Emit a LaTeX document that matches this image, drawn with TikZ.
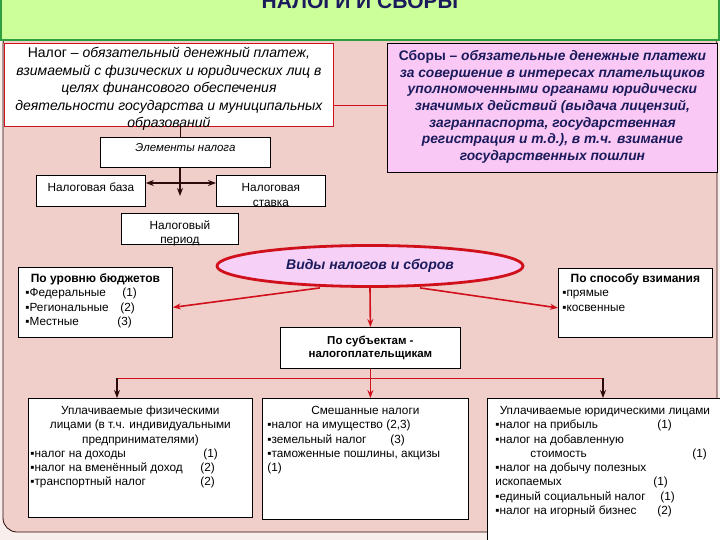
\documentclass[tikz,border=0pt]{standalone}
\usepackage{fontspec}
\setmainfont{Liberation Sans}
\usetikzlibrary{shapes.geometric,arrows.meta}

\definecolor{pageback}{HTML}{F8EEEC}
\definecolor{pinkbg}{HTML}{F0CEC9}
\definecolor{banner}{HTML}{CCFF99}
\definecolor{bannerline}{HTML}{2E9E3E}
\definecolor{sborfill}{HTML}{F9C8F4}
\definecolor{ellfill}{HTML}{F6D0F7}
\definecolor{myred}{HTML}{D0111B}
\definecolor{navy}{HTML}{1A1A5C}
\definecolor{darkline}{HTML}{2B0A0A}

\begin{document}
\begin{tikzpicture}[x=1pt, y=-1pt, >={Stealth[length=8pt,width=6pt]},
    box/.style={draw, fill=white, anchor=north west, inner sep=0pt, line width=0.8pt},
    redarrow/.style={->, draw=myred, line width=1.6pt},
    blackarrow/.style={->, draw=darkline, line width=2pt},
    smallfont/.style={font=\fontsize{11.8}{14.3}\selectfont}]
    \useasboundingbox (0,0) rectangle (720,540);
    % background and frame
    \fill[pageback] (0,0) rectangle (720,540);
    \filldraw[fill=pinkbg, draw=darkline, line width=0.8pt, rounded corners=14pt] (3,30) rectangle (717,532);
    \fill[banner] (0,0) rectangle (720,40);
    \draw[bannerline, line width=1.5pt] (0.8,0) -- (0.8,40) -- (719.2,40) -- (719.2,0);
    \node[font=\bfseries\fontsize{21}{21}\selectfont, text=navy, anchor=base] (0) at (360,9) {НАЛОГИ И СБОРЫ};

    % definitions
    \node[box, draw=myred, font=\fontsize{14}{17.5}\selectfont\itshape] (1) at (4,43)
        {\parbox[c][83pt][t]{329pt}{\centering\rule{0pt}{14.5pt}\textup{Налог –} обязательный денежный платеж,\\
        взимаемый с физических и юридических лиц в\\
        целях финансового обеспечения\\
        деятельности государства и муниципальных\\
        образований}};
    \node[box, fill=sborfill, text=navy, font=\fontsize{13.8}{16.7}\selectfont\bfseries\itshape] (2) at (387,43)
        {\parbox[c][129pt][t]{330pt}{\centering\rule{0pt}{17pt}\textup{Сборы –} обязательные денежные платежи\\
        за совершение в интересах плательщиков\\
        уполномоченными органами юридически\\
        значимых действий (выдача лицензий,\\
        загранпаспорта, государственная\\
        регистрация и т.д.), в т.ч. взимание\\
        государственных пошлин}};

    % elements of a tax
    \node[box, font=\fontsize{11.5}{14}\selectfont\itshape] (3) at (100,137)
        {\parbox[c][30pt][t]{170pt}{\centering\rule{0pt}{14pt}Элементы налога}};
    \node[box, smallfont] (4) at (36,175)
        {\parbox[c][31pt][t]{109pt}{\centering\rule{0pt}{16pt}Налоговая база}};
    \node[box, font=\fontsize{11.8}{15}\selectfont] (5) at (216,175)
        {\parbox[c][31pt][t]{109pt}{\centering\rule{0pt}{16pt}Налоговая\\ставка}};
    \node[box, font=\fontsize{11.8}{14}\selectfont] (6) at (121,213)
        {\parbox[c][31pt][t]{117pt}{\centering\rule{0pt}{16pt}Налоговый\\период}};

    % kinds of taxes
    \node[ellipse, draw=myred, line width=2.8pt, fill=ellfill, minimum width=306pt, minimum height=41pt,
        inner sep=0pt, text=navy, font=\fontsize{14}{14}\selectfont\bfseries\itshape] (7) at (370,266)
        {Виды налогов и сборов};
    \node[box, smallfont] (8) at (18,267)
        {\parbox[c][70pt][t]{154pt}{{\centering\rule{0pt}{15pt}\textbf{\fontsize{12}{14.5}\selectfont По уровню бюджетов}\par}
        \raggedright\leftskip=7pt
        \makebox[97pt][l]{▪Федеральные}(1)\\
        \makebox[95pt][l]{▪Региональные}(2)\\
        \makebox[92pt][l]{▪Местные}(3)}};
    \node[box, smallfont] (9) at (558,268)
        {\parbox[c][69pt][t]{154pt}{{\centering\rule{0pt}{14pt}\textbf{\fontsize{12}{14.5}\selectfont По способу взимания}\par}
        \raggedright\leftskip=4pt
        ▪прямые\\
        ▪косвенные}};
    \node[box, font=\fontsize{11.5}{13.5}\selectfont\bfseries] (10) at (280,327)
        {\parbox[c][41pt][t]{180pt}{\centering\rule{0pt}{17pt}По субъектам -\\налогоплательщикам}};

    % taxpayers
    \node[box, smallfont] (11) at (28,398)
        {\parbox[c][119pt][t]{224pt}{{\centering\rule{0pt}{16pt}Уплачиваемые физическими\\
        лицами (в т.ч. индивидуальными\\
        предпринимателями)\par}
        \raggedright\leftskip=2pt
        \makebox[173pt][l]{▪налог на доходы}(1)\\
        \makebox[170pt][l]{▪налог на вменённый доход}(2)\\
        \makebox[170pt][l]{▪транспортный налог}(2)}};
    \node[box, smallfont] (12) at (262,398)
        {\parbox[c][121pt][t]{206pt}{{\centering\rule{0pt}{16pt}Смешанные налоги\par}
        \raggedright\leftskip=5pt
        ▪налог на имущество (2,3)\\
        \makebox[123pt][l]{▪земельный налог}(3)\\
        ▪таможенные пошлины, акцизы\\
        (1)}};
    \node[box, smallfont] (13) at (487,398)
        {\parbox[c][150pt][t]{235pt}{{\centering\rule{0pt}{16pt}Уплачиваемые юридическими лицами\par}
        \raggedright\leftskip=8pt
        \makebox[162pt][l]{▪налог на прибыль}(1)\\
        ▪налог на добавленную\\
        \makebox[197pt][l]{\hspace*{35pt}стоимость}(1)\\
        ▪налог на добычу полезных\\
        \makebox[158pt][l]{ископаемых}(1)\\
        \makebox[165pt][l]{▪единый социальный налог}(1)\\
        \makebox[162pt][l]{▪налог на игорный бизнес}(2)}};

    % connectors
    \coordinate (j1) at (180,196);
    \coordinate (l) at (117,378);
    \coordinate (r) at (603,378);
    \draw[myred, line width=0.8pt] (1.east |- 0,105) -- (2.west |- 0,105);
    \draw[darkline, line width=0.8pt] (1.south -| 180,0) -- (3.north -| 180,0);
    \draw[blackarrow] (3.south -| 180,0) -- (j1);
    \draw[blackarrow, <->] (4.east |- 0,183) -- (5.west |- 0,183);
    \draw[redarrow] ([xshift=-50pt]7.south) -- ([yshift=-5pt]8.east);
    \draw[redarrow] ([xshift=50pt]7.south) -- ([yshift=-5pt]9.west);
    \draw[redarrow] (7.south) -- (10.north);
    \draw[myred, line width=0.8pt] (l) -- (r);
    \draw[redarrow] (10.south) -- (10.south |- 12.north);
    \draw[blackarrow] (l) -- (l |- 11.north);
    \draw[blackarrow] (r) -- (r |- 13.north);
\end{tikzpicture}
\end{document}
